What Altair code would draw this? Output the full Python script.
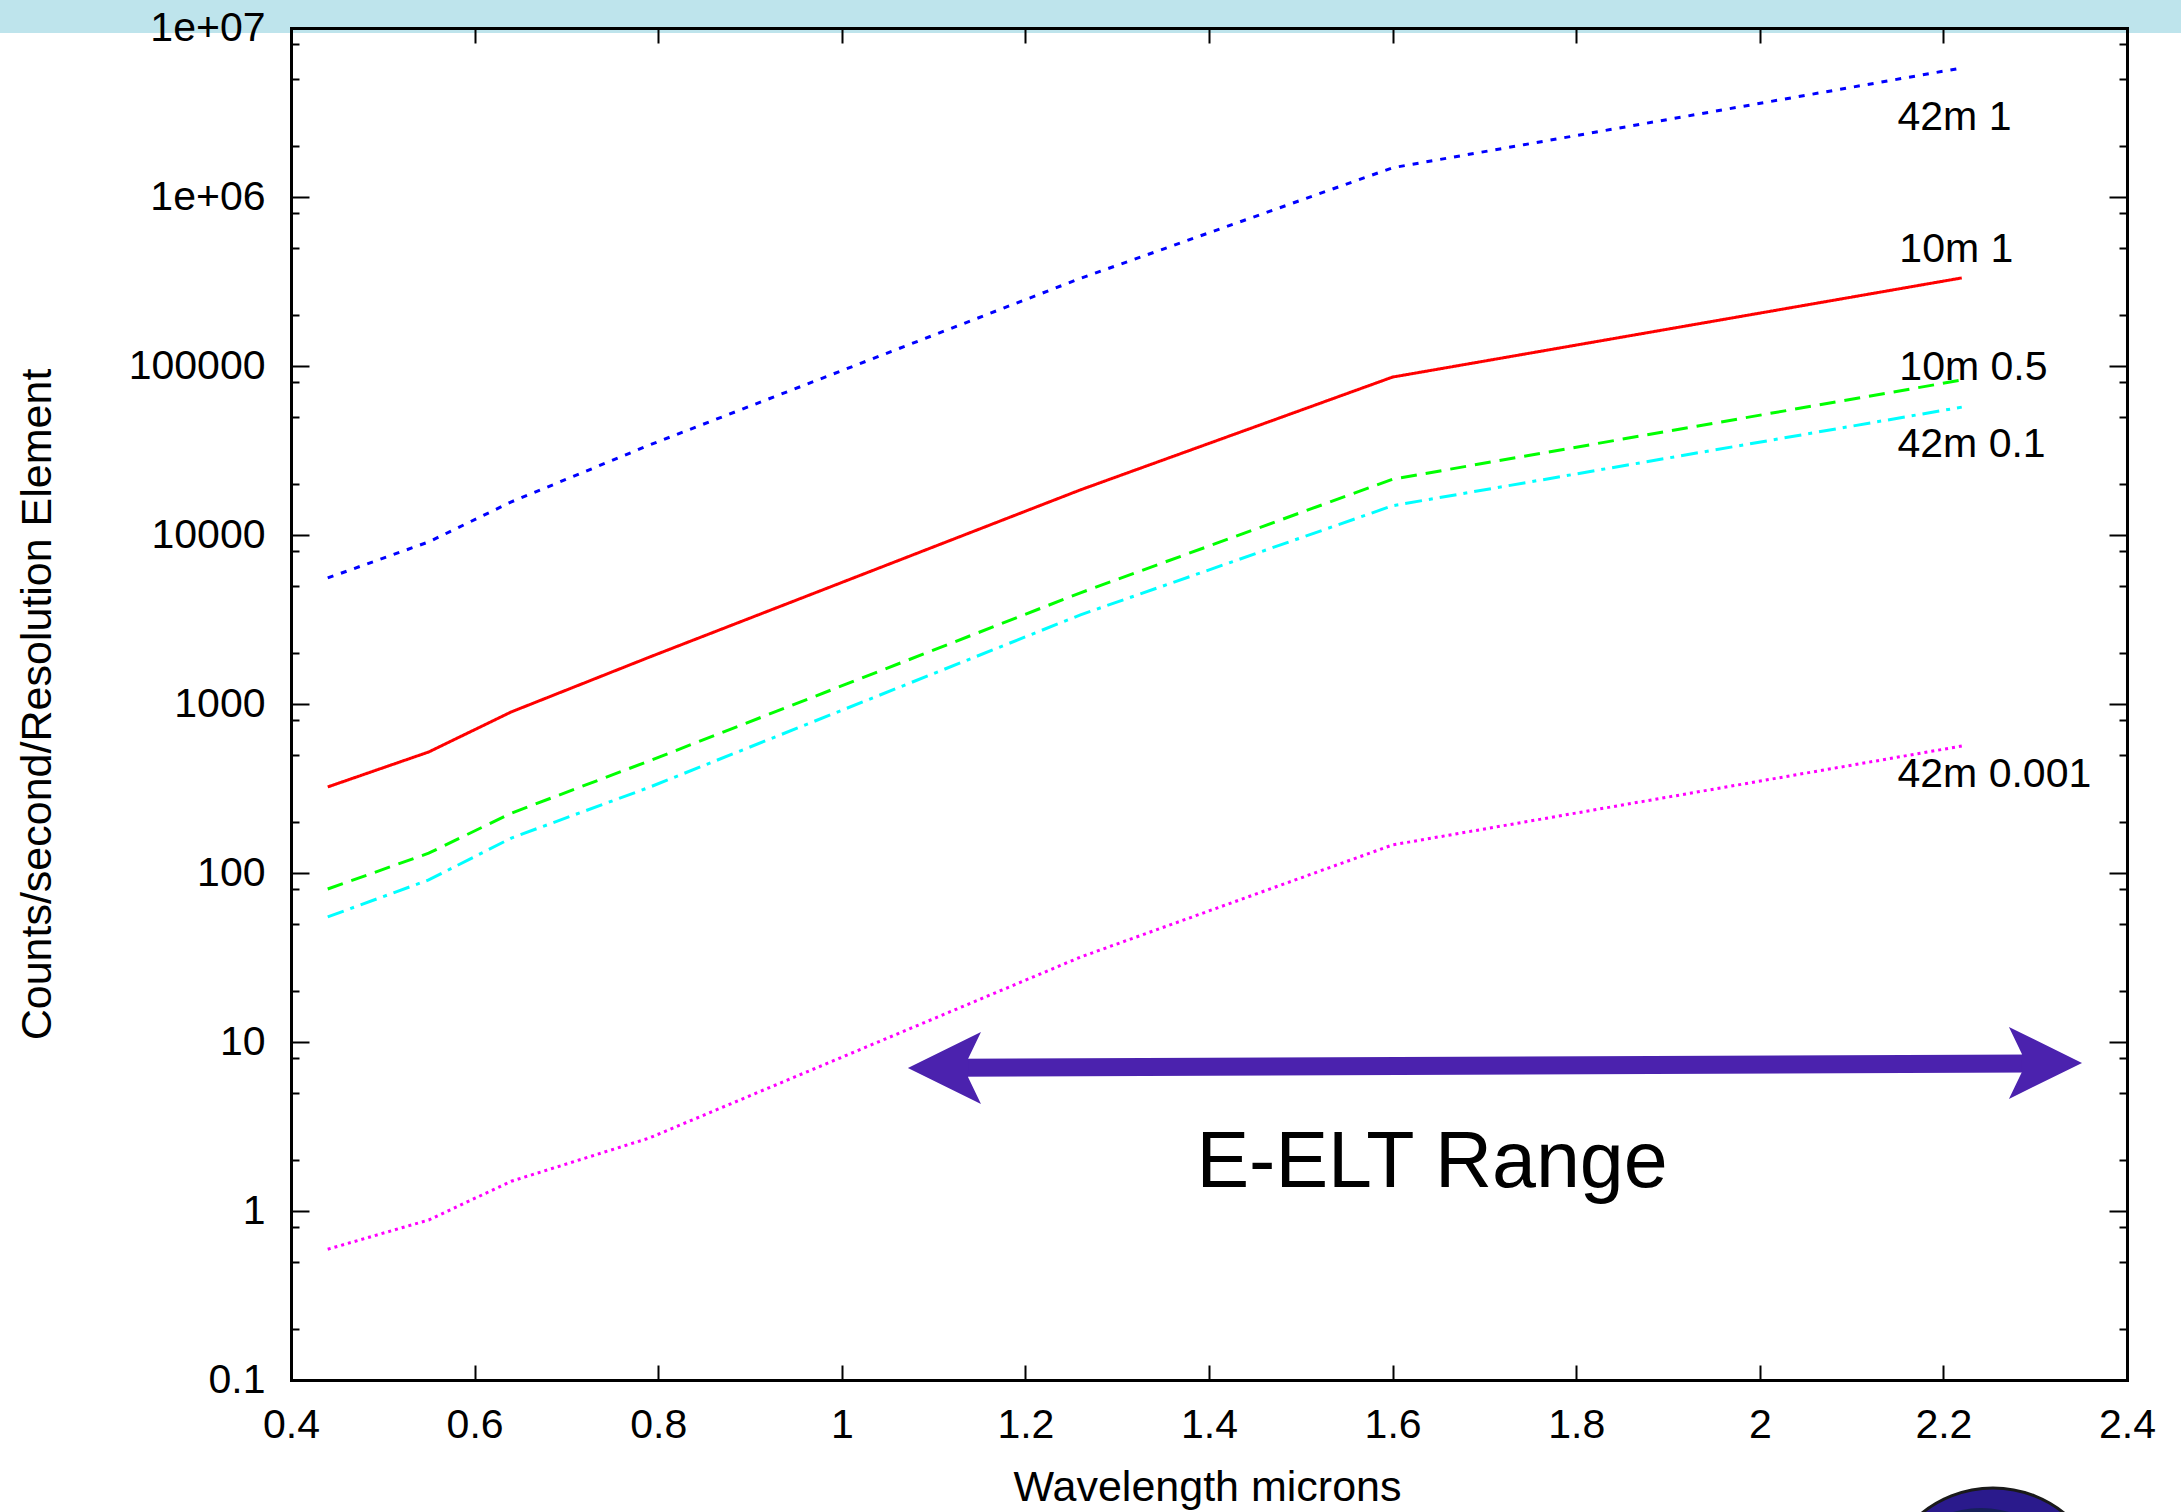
import altair as alt
import pandas as pd

FONT = "Liberation Sans"

# ---------------- data ----------------
wavelength = [0.44, 0.55, 0.64, 0.79, 1.26, 1.60, 2.22]
series_names = ["42m 1", "10m 1", "10m 0.5", "42m 0.1", "42m 0.001"]
counts_42m_1 = [5570, 9100, 15700, 34000, 330000, 1.49e6, 5.8e6]
counts_10m_1 = [323, 520, 898, 1890, 18500, 86000, 3.32e5]
counts_10m_05 = [80.4, 131, 226, 460, 4550, 21400, 82600]
counts_42m_01 = [55, 91, 161, 321, 3370, 14900, 57100]
counts_42m_0001 = [0.594, 0.885, 1.5, 2.7, 31.8, 146.6, 564]
series_colors = ["#0000ff", "#ff0000", "#00ff00", "#00ffff", "#ff00ff"]
series_dashes = [[6, 8], [1, 0], [16, 9], [17, 7, 4, 7], [3, 4]]

label_text = ["42m 1", "10m 1", "10m 0.5", "42m 0.1", "42m 0.001"]
label_x = [2.15, 2.152, 2.152, 2.15, 2.15]
label_y = [2.49e6, 4.12e5, 82600, 28970, 323]

x_ticks = [0.4, 0.6, 0.8, 1.0, 1.2, 1.4, 1.6, 1.8, 2.0, 2.2, 2.4]
y_ticks = [0.1, 1, 10, 100, 1000, 10000, 100000, 1e6, 1e7]
y_tick_labels = ["0.1", "1", "10", "100", "1000", "10000", "100000", "1e+06", "1e+07"]
y_minor_mult = [2, 5, 8]

range_text = ["E-ELT Range"]
range_text_x = [1.643]
range_text_y = [1.387]

arrow_tip_x = [1.072, 2.351]
arrow_tip_y = [7.01, 7.52]
arrow_shaft_x = [1.125, 2.295]
arrow_shaft_y = [7.03, 7.47]
ARROW_COLOR = "#4b22ae"

# ---------------- tables ----------------
counts = [counts_42m_1, counts_10m_1, counts_10m_05, counts_42m_01, counts_42m_0001]
rows = []
for name, vals in zip(series_names, counts):
    for i, (w, v) in enumerate(zip(wavelength, vals)):
        rows.append({"series": name, "wl": w, "val": v, "order": i})
lines_df = pd.DataFrame(rows)
labels_df = pd.DataFrame({"lx": label_x, "ly": label_y, "txt": label_text})
range_df = pd.DataFrame({"rx": range_text_x, "ry": range_text_y, "t": range_text})
shaft_df = pd.DataFrame({"sx": arrow_shaft_x, "sy": arrow_shaft_y})
lhead_df = pd.DataFrame({"hx": arrow_tip_x[:1], "hy": arrow_tip_y[:1]})
rhead_df = pd.DataFrame({"hx": arrow_tip_x[1:], "hy": arrow_tip_y[1:]})
one_df = pd.DataFrame({"k": [0]})

y_minor = []
for e in range(-1, 7):
    for m in y_minor_mult:
        y_minor.append(float(f"{m}e{e}"))

label_expr = ""
for v, lab in zip(y_ticks, y_tick_labels):
    label_expr += f"abs(datum.value - {v}) < {v} * 0.01 ? '{lab}' : "
label_expr += "''"

xscale = alt.Scale(domain=[0.4, 2.4], nice=False, zero=False)
yscale = alt.Scale(type="log", domain=[0.1, 1e7], nice=False)

W, H = 1836, 1352

common = dict(grid=False, zindex=1, labelFont=FONT, labelFontSize=41, labelColor="black",
              tickColor="black", tickWidth=2, labelFlush=False, labelOverlap=False,
              titleFont=FONT, titleFontSize=43, titleFontWeight="normal", titleColor="black")

ax_bottom = alt.Axis(orient="bottom", values=x_ticks, format="~g", tickSize=15, offset=-15,
                     domain=False, labelPadding=25, title="Wavelength microns",
                     titleX=W / 2 - 2, titleY=122, titleAlign="center", titleBaseline="middle",
                     titleAngle=0, **common)
ax_top = alt.Axis(orient="top", values=x_ticks, tickSize=15, offset=-15, domain=False,
                  labels=False, title=None, **common)
ax_left = alt.Axis(orient="left", values=y_ticks, labelExpr=label_expr, tickSize=18, offset=-18,
                   domain=False, labelPadding=26, title="Counts/second/Resolution Element",
                   titleX=-272, titleY=H / 2, titleAngle=270, titleAlign="center",
                   titleBaseline="middle", **common)
ax_right = alt.Axis(orient="right", values=y_ticks, tickSize=18, offset=-18, domain=False,
                    labels=False, title=None, **common)
ax_left_minor = alt.Axis(orient="left", values=y_minor, tickSize=8, offset=-8, domain=False,
                         labels=False, title=None, **common)
ax_right_minor = alt.Axis(orient="right", values=y_minor, tickSize=8, offset=-8, domain=False,
                          labels=False, title=None, **common)
frame = dict(offset=0, domain=True, domainColor="black", domainWidth=3, domainCap="square",
             ticks=False, labels=False, title=None, grid=False, zindex=1)
ax_bottom_frame = alt.Axis(orient="bottom", **frame)
ax_top_frame = alt.Axis(orient="top", **frame)
ax_left_frame = alt.Axis(orient="left", **frame)
ax_right_frame = alt.Axis(orient="right", **frame)

band = alt.Chart(one_df).mark_rect(color="#bee4ec").encode(
    x=alt.value(-291), x2=alt.value(W + 54), y=alt.value(-28), y2=alt.value(5)
)

lines = alt.Chart(lines_df).mark_line(strokeWidth=3, clip=True).encode(
    x=alt.X("wl:Q", scale=xscale, axis=ax_bottom),
    y=alt.Y("val:Q", scale=yscale, axis=ax_left),
    color=alt.Color("series:N", scale=alt.Scale(domain=series_names, range=series_colors), legend=None),
    strokeDash=alt.StrokeDash("series:N", scale=alt.Scale(domain=series_names, range=series_dashes), legend=None),
    order="order:Q",
)

labels = alt.Chart(labels_df).mark_text(align="left", baseline="alphabetic", font=FONT,
                                        fontSize=41, color="black").encode(
    x=alt.X("lx:Q", scale=xscale, axis=ax_top),
    y=alt.Y("ly:Q", scale=yscale, axis=ax_right),
    text="txt:N",
)

range_label = alt.Chart(range_df).mark_text(align="center", baseline="alphabetic", font=FONT,
                                            fontSize=79, color="black").encode(
    x=alt.X("rx:Q", scale=xscale, axis=ax_bottom_frame),
    y=alt.Y("ry:Q", scale=yscale, axis=ax_left_minor),
    text="t:N",
)

shaft = alt.Chart(shaft_df).mark_line(strokeWidth=18, color=ARROW_COLOR, strokeCap="butt").encode(
    x=alt.X("sx:Q", scale=xscale, axis=ax_top_frame),
    y=alt.Y("sy:Q", scale=yscale, axis=ax_right_minor),
)

LEFT_HEAD = "M0,0L2.03,-1L1.67,-0.25L1.67,0.25L2.03,1Z"
RIGHT_HEAD = "M0,0L-2.03,-1L-1.67,-0.25L-1.67,0.25L-2.03,1Z"

lhead = alt.Chart(lhead_df).mark_point(shape=LEFT_HEAD, size=5184, filled=True, opacity=1,
                                       color=ARROW_COLOR, strokeWidth=0).encode(
    x=alt.X("hx:Q", scale=xscale, axis=None),
    y=alt.Y("hy:Q", scale=yscale, axis=ax_left_frame),
)
rhead = alt.Chart(rhead_df).mark_point(shape=RIGHT_HEAD, size=5184, filled=True, opacity=1,
                                       color=ARROW_COLOR, strokeWidth=0).encode(
    x=alt.X("hx:Q", scale=xscale, axis=None),
    y=alt.Y("hy:Q", scale=yscale, axis=ax_right_frame),
)

logo_outer = alt.Chart(one_df).mark_point(shape="circle", size=51076, filled=True, opacity=1,
                                          fill="#2a1a8c", stroke="#1a1a1a", strokeWidth=3).encode(
    x=alt.value(1702), y=alt.value(1573)
)
logo_inner = alt.Chart(one_df).mark_point(shape="circle", size=40000, filled=True, opacity=1,
                                          fill="#16205a", strokeWidth=0).encode(
    x=alt.value(1690), y=alt.value(1580)
)

chart = alt.layer(
    band, lines, labels, range_label, shaft, lhead, rhead, logo_outer, logo_inner
).resolve_axis(
    x="independent", y="independent"
).properties(
    width=W, height=H,
    padding={"left": 291, "top": 28, "right": 54, "bottom": 132},
    autosize=alt.AutoSizeParams(type="none"),
    background="white",
).configure_view(strokeWidth=0)

chart.save("out.html", embed_options={"renderer": "svg", "actions": False})
